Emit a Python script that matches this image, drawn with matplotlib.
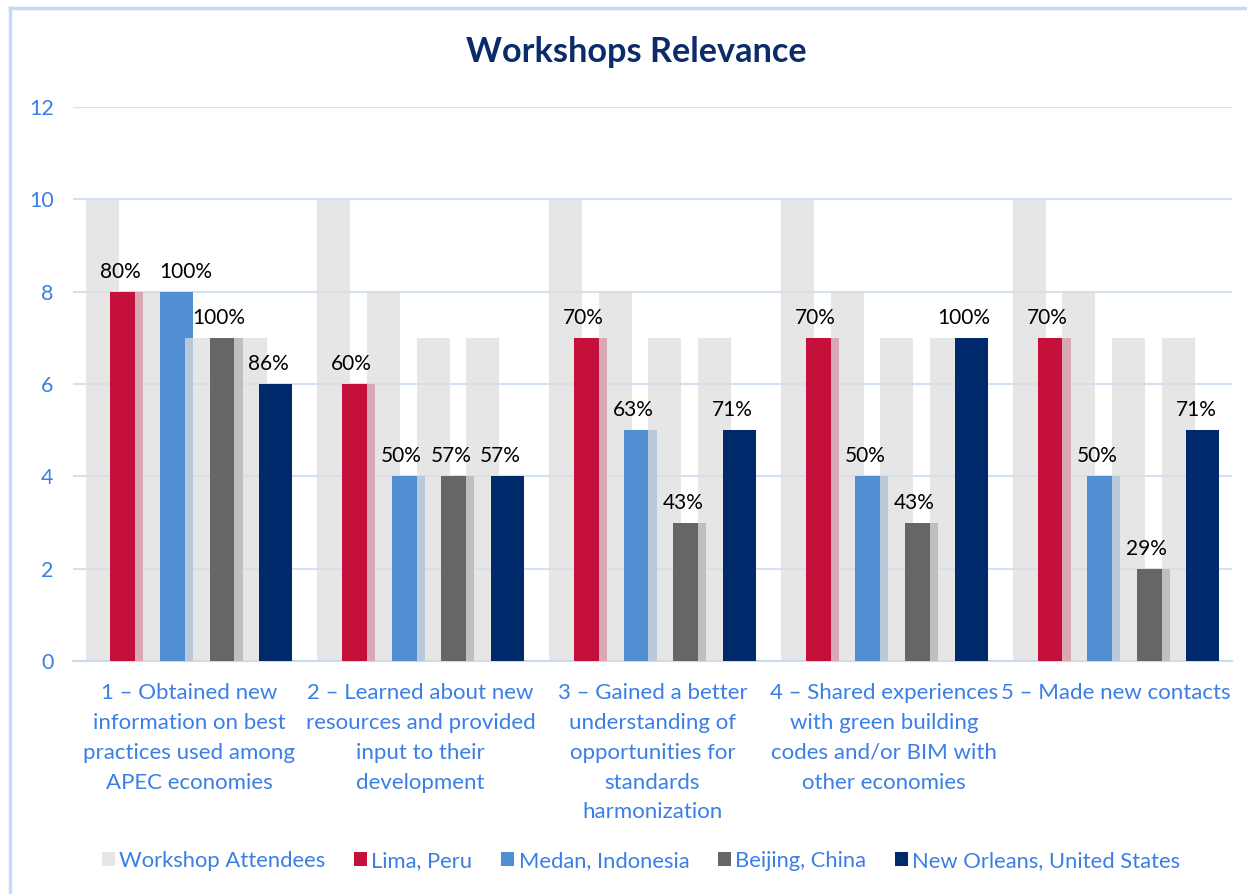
import numpy as np
import matplotlib
matplotlib.use('Agg')
import matplotlib.pyplot as plt
from matplotlib.patches import Patch
from matplotlib.lines import Line2D

# Data
questions = [
    '1 – Obtained new\ninformation on best\npractices used among\nAPEC economies',
    '2 – Learned about new\nresources and provided\ninput to their\ndevelopment',
    '3 – Gained a better\nunderstanding of\nopportunities for\nstandards\nharmonization',
    '4 – Shared experiences\nwith green building\ncodes and/or BIM with\nother economies',
    '5 – Made new contacts',
]
locations = ['Lima, Peru', 'Medan, Indonesia', 'Beijing, China', 'New Orleans, United States']
attendees = [10, 8, 7, 7]  # per location, same for every question
lima = [8, 6, 7, 7, 7]
medan = [8, 4, 5, 4, 4]
beijing = [7, 4, 3, 3, 2]
new_orleans = [6, 4, 5, 7, 5]
responses = [lima, medan, beijing, new_orleans]

loc_colors = ['#C4103A', '#518ED2', '#666666', '#002A6C']
text_blue = '#3A7FE6'
grid_blue = '#D3E1F5'

plt.rcParams['font.family'] = ['Lato', 'DejaVu Sans']

fig = plt.figure(figsize=(12.47, 8.94), dpi=100)
ax = fig.add_axes([73 / 1247, 1 - 661 / 894, (1232 - 73) / 1247, (661 - 107) / 894])

x = np.arange(len(questions))
step = 0.107
width = 0.143

for i in range(len(locations)):
    gx = x + (2 * i - 3.5) * step
    cx = x + (2 * i + 1 - 3.5) * step
    ax.bar(gx, [attendees[i]] * len(x), width, color='#DEDEDE', alpha=0.75,
           zorder=2 + 2 * i, linewidth=0)
    ax.bar(cx, responses[i], width, color=loc_colors[i], zorder=3 + 2 * i, linewidth=0)
    for j, (xi, v) in enumerate(zip(cx, responses[i])):
        pct = int(v / attendees[i] * 100 + 0.5)
        dx = -0.03
        if i == 1 and j == 0:
            dx = 0.04  # label moved right in the reference to clear its neighbour
        ax.annotate(f'{pct}%', (xi + dx, v), xytext=(0, 10), textcoords='offset points',
                    ha='center', va='baseline', fontsize=15, color='black', zorder=20)

ax.set_xlim(-0.5, len(x) - 0.5)
ax.set_ylim(0, 12)
ax.set_yticks(range(0, 13, 2))
ax.set_xticks(x)
ax.set_xticklabels(questions, linespacing=1.61)
ax.tick_params(axis='x', length=0, pad=16, labelsize=16, labelcolor=text_blue)
ax.tick_params(axis='y', length=0, pad=14, labelsize=15.5, labelcolor=text_blue)
ax.yaxis.grid(True, color=grid_blue, linewidth=1.5, zorder=0)
ax.set_axisbelow(True)
for side in ['top', 'right', 'left']:
    ax.spines[side].set_visible(False)
ax.spines['bottom'].set_color('#C9DAF3')
ax.spines['bottom'].set_linewidth(1.5)

fig.text(636 / 1247, 1 - 52 / 894, 'Workshops Relevance', ha='center', va='center',
         fontsize=24.7, fontweight='bold', color='#0B2B69')

handles = [Patch(facecolor='#E6E6E6', label='Workshop Attendees')]
handles += [Patch(facecolor=c, label=l) for c, l in zip(loc_colors, locations)]
leg = fig.legend(handles=handles, loc='center', bbox_to_anchor=(641 / 1247, 1 - 861 / 894),
                 ncol=5, frameon=False, fontsize=15.8, handlelength=0.6, handleheight=0.6,
                 handletextpad=0.2, columnspacing=1.3)
for t in leg.get_texts():
    t.set_color(text_blue)

# chart frame (only top and left edges are visible in the reference)
fig.add_artist(Line2D([10 / 1247, 1], [1 - 8 / 894] * 2, color='#C5D9F8', linewidth=2.5))
fig.add_artist(Line2D([10 / 1247] * 2, [0, 1 - 8 / 894], color='#C5D9F8', linewidth=2.5))

fig.savefig('out.png', dpi=100)
